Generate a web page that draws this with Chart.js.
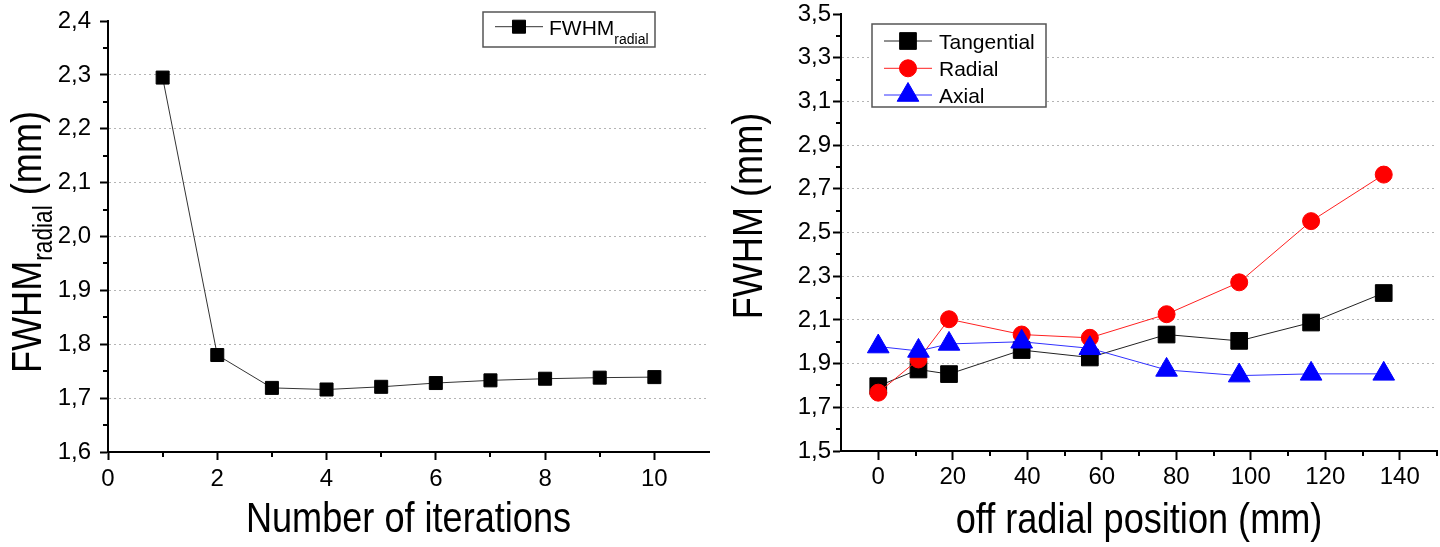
<!DOCTYPE html>
<html><head><meta charset="utf-8">
<script src="https://cdn.jsdelivr.net/npm/chart.js@4.4.1/dist/chart.umd.min.js"></script>
<style>
html,body{margin:0;padding:0;background:#fff;}
#wrap{position:relative;width:1440px;height:547px;overflow:hidden;}
.box{position:absolute;top:0;width:720px;height:547px;}
#b1{left:0;} #b2{left:720px;}
canvas{display:block;}
</style></head><body>
<div id="wrap">
  <div class="box" id="b1"><canvas id="c1" width="720" height="547"></canvas></div>
  <div class="box" id="b2"><canvas id="c2" width="720" height="547"></canvas></div>
</div>
<script>
// ---------- data: left chart ----------
const iterations = [1, 2, 3, 4, 5, 6, 7, 8, 9, 10];
const fwhmRadialByIteration = [2.295, 1.780, 1.719, 1.716, 1.721, 1.728, 1.733, 1.736, 1.738, 1.739];
const leftXTicks = [0, 2, 4, 6, 8, 10];
const leftXMinor = [1, 3, 5, 7, 9];
const leftYTicks = [1.6, 1.7, 1.8, 1.9, 2.0, 2.1, 2.2, 2.3, 2.4];
const leftYMinor = [1.65, 1.75, 1.85, 1.95, 2.05, 2.15, 2.25, 2.35];

// ---------- data: right chart ----------
const offRadialPosition = [0, 10.8, 19, 38.5, 56.8, 77.4, 96.9, 116.2, 135.7];
const tangential = [1.797, 1.873, 1.852, 1.962, 1.928, 2.033, 2.004, 2.088, 2.223];
const radial = [1.767, 1.919, 2.103, 2.033, 2.018, 2.126, 2.272, 2.552, 2.765];
const axial = [1.978, 1.958, 1.990, 2.000, 1.970, 1.871, 1.845, 1.853, 1.853];
const rightXTicks = [0, 20, 40, 60, 80, 100, 120, 140];
const rightXMinor = [10, 30, 50, 70, 90, 110, 130, 150];
const rightYTicks = [1.5, 1.7, 1.9, 2.1, 2.3, 2.5, 2.7, 2.9, 3.1, 3.3, 3.5];
const rightYMinor = [1.6, 1.8, 2.0, 2.2, 2.4, 2.6, 2.8, 3.0, 3.2, 3.4];

const FONT = "'Liberation Sans', Arial, Helvetica, sans-serif";
const fmt = v => Number(v).toFixed(1).replace('.', ',');
const pts = (xs, ys) => xs.map((x, i) => ({x: x, y: ys[i]}));

function drawMarker(ctx, style, r, x, y, color) {
  ctx.save();
  ctx.fillStyle = color; ctx.strokeStyle = color; ctx.lineWidth = 1;
  ctx.beginPath();
  if (style === 'rect') {
    const s = Math.SQRT1_2 * r;
    ctx.rect(x - s, y - s, 2 * s, 2 * s);
  } else if (style === 'circle') {
    ctx.arc(x, y, r, 0, Math.PI * 2);
  } else if (style === 'triangle') {
    const w = r * Math.sin(Math.PI / 3);
    ctx.moveTo(x, y - r);
    ctx.lineTo(x + w, y + r / 2);
    ctx.lineTo(x - w, y + r / 2);
    ctx.closePath();
  }
  ctx.fill(); ctx.stroke();
  ctx.restore();
}

function drawRich(ctx, parts, o) {
  ctx.save();
  ctx.translate(o.x, o.y);
  if (o.rot) ctx.rotate(o.rot);
  ctx.scale(o.sx || 1, 1);
  let total = 0;
  parts.forEach(p => { ctx.font = p.size + 'px ' + FONT; p.w = ctx.measureText(p.text).width; total += p.w; });
  let cx = o.align === 'left' ? 0 : -total / 2;
  ctx.fillStyle = '#000'; ctx.textBaseline = 'alphabetic'; ctx.textAlign = 'left';
  parts.forEach(p => { ctx.font = p.size + 'px ' + FONT; ctx.fillText(p.text, cx, p.dy || 0); cx += p.w; });
  ctx.restore();
}

const minorTicks = {
  id: 'minorTicks',
  afterDraw(chart, args, o) {
    const ctx = chart.ctx, a = chart.chartArea, xs = chart.scales.x, ys = chart.scales.y;
    ctx.save(); ctx.strokeStyle = '#000'; ctx.lineWidth = 2;
    (o.x || []).forEach(v => { const p = Math.round(xs.getPixelForValue(v)); ctx.beginPath(); ctx.moveTo(p, a.bottom); ctx.lineTo(p, a.bottom + o.len); ctx.stroke(); });
    (o.y || []).forEach(v => { const p = Math.round(ys.getPixelForValue(v)); ctx.beginPath(); ctx.moveTo(a.left, p); ctx.lineTo(a.left - o.len, p); ctx.stroke(); });
    ctx.restore();
  }
};

const axisTitles = {
  id: 'axisTitles',
  afterDraw(chart, args, o) {
    const ctx = chart.ctx, a = chart.chartArea;
    drawRich(ctx, o.xParts, {x: (a.left + a.right) / 2, y: o.xBaseline, sx: o.sx});
    drawRich(ctx, o.yParts, {x: o.yBaseline, y: o.yCenter, rot: -Math.PI / 2, sx: o.sx});
  }
};

const boxLegend = {
  id: 'boxLegend',
  afterDraw(chart, args, o) {
    const ctx = chart.ctx;
    ctx.save();
    ctx.fillStyle = '#fff'; ctx.fillRect(o.x, o.y, o.w, o.h);
    ctx.strokeStyle = '#555'; ctx.lineWidth = 1.5; ctx.strokeRect(o.x, o.y, o.w, o.h);
    chart.data.datasets.forEach((ds, i) => {
      const cy = o.rows[i];
      ctx.strokeStyle = ds.borderColor; ctx.lineWidth = 1;
      ctx.beginPath(); ctx.moveTo(o.x0, cy); ctx.lineTo(o.x1, cy); ctx.stroke();
      drawMarker(ctx, ds.pointStyle, ds.pointRadius, (o.x0 + o.x1) / 2, cy, ds.pointBackgroundColor);
      const parts = o.labels ? o.labels[i] : [{text: ds.label, size: o.size}];
      drawRich(ctx, parts, {x: o.tx, y: cy + o.baseOff, align: 'left'});
    });
    ctx.restore();
  }
};

function yGrid(min, max) {
  return {
    color: c => (c.tick && (Math.abs(c.tick.value - min) < 1e-9 || Math.abs(c.tick.value - max) < 1e-9)) ? 'rgba(0,0,0,0)' : '#b4b4b4',
    lineWidth: 1, drawTicks: true, tickLength: 8, tickColor: '#000', tickWidth: 2
  };
}

// ---------- left chart ----------
new Chart(document.getElementById('c1'), {
  type: 'line',
  data: { datasets: [{
    label: 'FWHM radial',
    data: pts(iterations, fwhmRadialByIteration),
    borderColor: '#333', borderWidth: 1, tension: 0,
    pointStyle: 'rect', pointRadius: 9.2, pointBackgroundColor: '#000', pointBorderColor: '#000', pointBorderWidth: 1
  }]},
  options: {
    responsive: false, devicePixelRatio: 1, animation: false, events: [],
    layout: { autoPadding: false, padding: {top: 12, right: 11, left: 0, bottom: 0} },
    plugins: {
      legend: {display: false}, tooltip: {enabled: false},
      minorTicks: {x: leftXMinor, y: leftYMinor, len: 5},
      axisTitles: {
        sx: 0.84,
        xParts: [{text: 'Number of iterations', size: 43}], xBaseline: 532,
        yParts: [{text: 'FWHM', size: 43}, {text: 'radial', size: 27, dy: 11}, {text: ' (mm)', size: 43}],
        yBaseline: 41, yCenter: 242
      },
      boxLegend: {
        x: 483, y: 12, w: 172, h: 35, x0: 495, x1: 543, rows: [26.7], tx: 549, baseOff: 8.3,
        labels: [[{text: 'FWHM', size: 21}, {text: 'radial', size: 14, dy: 9}]]
      }
    },
    scales: {
      x: {
        type: 'linear', min: 0, max: 11,
        afterBuildTicks: s => { s.ticks = leftXTicks.map(v => ({value: v})); },
        afterFit: s => { s.height = 95; },
        grid: {drawOnChartArea: false, drawTicks: true, tickLength: 8, tickColor: '#000', tickWidth: 2},
        border: {display: true, color: '#000', width: 2},
        ticks: {color: '#000', font: {family: FONT, size: 24, lineHeight: 1}, padding: 7, maxRotation: 0}
      },
      y: {
        type: 'linear', min: 1.6, max: 2.4,
        afterBuildTicks: s => { s.ticks = leftYTicks.map(v => ({value: v})); },
        afterFit: s => { s.width = 108; },
        grid: yGrid(1.6, 2.4),
        border: {display: true, color: '#000', width: 2, dash: [2, 3]},
        ticks: {color: '#000', font: {family: FONT, size: 24, lineHeight: 1}, padding: 9, callback: v => fmt(v)}
      }
    }
  },
  plugins: [minorTicks, axisTitles, boxLegend]
});

// ---------- right chart ----------
new Chart(document.getElementById('c2'), {
  type: 'line',
  data: { datasets: [
    { label: 'Tangential', data: pts(offRadialPosition, tangential), order: 3,
      borderColor: '#222', borderWidth: 1, tension: 0,
      pointStyle: 'rect', pointRadius: 11.8, pointBackgroundColor: '#000', pointBorderColor: '#000', pointBorderWidth: 1 },
    { label: 'Radial', data: pts(offRadialPosition, radial), order: 2,
      borderColor: '#ff2020', borderWidth: 1, tension: 0,
      pointStyle: 'circle', pointRadius: 8.5, pointBackgroundColor: '#ff0000', pointBorderColor: '#ff0000', pointBorderWidth: 1 },
    { label: 'Axial', data: pts(offRadialPosition, axial), order: 1,
      borderColor: '#3030ff', borderWidth: 1, tension: 0,
      pointStyle: 'triangle', pointRadius: 12.5, pointBackgroundColor: '#0000ff', pointBorderColor: '#0000ff', pointBorderWidth: 1 }
  ]},
  options: {
    responsive: false, devicePixelRatio: 1, animation: false, events: [],
    layout: { autoPadding: false, padding: {top: 12, right: 3, left: 0, bottom: 0} },
    plugins: {
      legend: {display: false}, tooltip: {enabled: false},
      minorTicks: {x: rightXMinor, y: rightYMinor, len: 5},
      axisTitles: {
        sx: 0.84,
        xParts: [{text: 'off radial position (mm)', size: 43}], xBaseline: 533,
        yParts: [{text: 'FWHM (mm)', size: 43}],
        yBaseline: 42, yCenter: 216
      },
      boxLegend: {
        x: 152, y: 24, w: 174, h: 83, x0: 164, x1: 212, rows: [41, 68.3, 95], tx: 219, baseOff: 7.5, size: 21
      }
    },
    scales: {
      x: {
        type: 'linear', min: -10, max: 150,
        afterBuildTicks: s => { s.ticks = rightXTicks.map(v => ({value: v})); },
        afterFit: s => { s.height = 96; },
        grid: {drawOnChartArea: false, drawTicks: true, tickLength: 9, tickColor: '#000', tickWidth: 2},
        border: {display: true, color: '#000', width: 2},
        ticks: {color: '#000', font: {family: FONT, size: 24, lineHeight: 1}, padding: 5, maxRotation: 0}
      },
      y: {
        type: 'linear', min: 1.5, max: 3.5,
        afterBuildTicks: s => { s.ticks = rightYTicks.map(v => ({value: v})); },
        afterFit: s => { s.width = 121; },
        grid: yGrid(1.5, 3.5),
        border: {display: true, color: '#000', width: 2, dash: [2, 3]},
        ticks: {color: '#000', font: {family: FONT, size: 24, lineHeight: 1}, padding: 2, callback: v => fmt(v)}
      }
    }
  },
  plugins: [minorTicks, axisTitles, boxLegend]
});
</script>
</body></html>
